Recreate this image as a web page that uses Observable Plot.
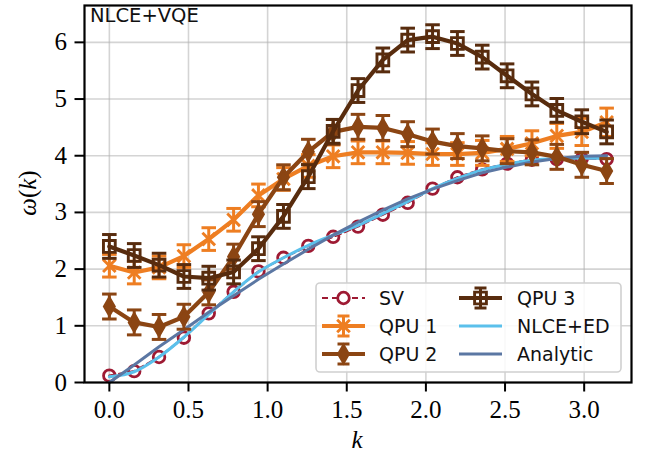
<!DOCTYPE html>
<html><head><meta charset="utf-8">
<script src="https://cdn.jsdelivr.net/npm/d3@7"></script>
<script src="https://cdn.jsdelivr.net/npm/@observablehq/plot@0.6"></script>
<style>
body{margin:0;background:#fff;}
#chart{position:relative;width:645px;height:462px;}
</style></head><body><div id="chart"></div>
<script>
// ---- data ----
const k = [0, 0.157, 0.314, 0.471, 0.628, 0.785, 0.942, 1.100, 1.257, 1.414, 1.571,
           1.728, 1.885, 2.042, 2.199, 2.356, 2.513, 2.670, 2.827, 2.985, 3.142];
const sv = [0.12, 0.2, 0.45, 0.79, 1.22, 1.6, 1.96, 2.2, 2.41, 2.57, 2.75,
            2.96, 3.17, 3.42, 3.62, 3.76, 3.86, 3.93, 3.94, 3.95, 3.94];
const qpu1 = [2.06, 1.94, 2.03, 2.23, 2.53, 2.87, 3.3, 3.59, 3.82, 3.99, 4.06,
              4.06, 4.05, 4.03, 4.03, 4.05, 4.12, 4.22, 4.35, 4.42, 4.59];
const qpu1Err = [0.2, 0.2, 0.2, 0.2, 0.2, 0.2, 0.2, 0.2, 0.2, 0.2, 0.2,
                 0.2, 0.2, 0.2, 0.2, 0.22, 0.22, 0.22, 0.22, 0.24, 0.25];
const qpu2 = [1.34, 1.06, 0.98, 1.16, 1.59, 2.22, 2.97, 3.62, 4.07, 4.42, 4.51,
              4.49, 4.38, 4.25, 4.17, 4.13, 4.08, 4.06, 3.98, 3.84, 3.73];
const qpu2Err = [0.22, 0.22, 0.22, 0.22, 0.22, 0.22, 0.22, 0.22, 0.22, 0.22, 0.22,
                 0.22, 0.22, 0.22, 0.22, 0.22, 0.22, 0.22, 0.22, 0.22, 0.22];
const qpu3 = [2.4, 2.24, 2.07, 1.87, 1.84, 1.95, 2.36, 2.93, 3.63, 4.43, 5.15,
              5.69, 6.04, 6.1, 5.98, 5.74, 5.41, 5.09, 4.8, 4.6, 4.42];
const qpu3Err = [0.21, 0.21, 0.21, 0.21, 0.21, 0.21, 0.21, 0.21, 0.21, 0.21, 0.21,
                 0.21, 0.21, 0.21, 0.21, 0.21, 0.21, 0.21, 0.21, 0.21, 0.21];
const nlceEd = [0.1, 0.19, 0.45, 0.8, 1.2, 1.6, 1.95, 2.2, 2.42, 2.6, 2.77,
                2.98, 3.19, 3.42, 3.6, 3.75, 3.85, 3.92, 3.95, 3.96, 3.95];
const analytic = [0, 0.31, 0.63, 0.93, 1.24, 1.53, 1.82, 2.09, 2.35, 2.6, 2.83,
                  3.04, 3.24, 3.41, 3.56, 3.7, 3.8, 3.89, 3.95, 3.99, 4.0];
const xTicks = [0, 0.5, 1.0, 1.5, 2.0, 2.5, 3.0];
const yTicks = [0, 1, 2, 3, 4, 5, 6];
const labels = ["SV", "QPU 1", "QPU 2", "QPU 3", "NLCE+ED", "Analytic"];
const colors = ["#9e1a33", "#ee7e22", "#8b4513", "#582c0e", "#5bc0eb", "#5b77a3"];

// ---- build ----
const toRows = (vals, err) => k.map((x, i) => ({k: x, y: vals[i],
  lo: err ? vals[i] - err[i] : null, hi: err ? vals[i] + err[i] : null}));
const svRows = toRows(sv), nlceRows = toRows(nlceEd), anRows = toRows(analytic);
const q1 = toRows(qpu1, qpu1Err), q2 = toRows(qpu2, qpu2Err), q3 = toRows(qpu3, qpu3Err);
const capSym = {draw(ctx, size) { const w = Math.sqrt(size) / 2; ctx.moveTo(-w, 0); ctx.lineTo(w, 0); }};

function qpuMarks(rows, color, symbol, r, fill) {
  return [
    Plot.line(rows, {x: "k", y: "y", stroke: color, strokeWidth: 4.2}),
    Plot.ruleX(rows, {x: "k", y1: "lo", y2: "hi", stroke: color, strokeWidth: 3}),
    Plot.dot(rows, {x: "k", y: "lo", symbol: capSym, r: 8.2, stroke: color, strokeWidth: 3}),
    Plot.dot(rows, {x: "k", y: "hi", symbol: capSym, r: 8.2, stroke: color, strokeWidth: 3}),
    Plot.dot(rows, {x: "k", y: "y", symbol, r, stroke: color, strokeWidth: 2.9, fill})
  ];
}

const plot = Plot.plot({
  width: 645, height: 462,
  marginLeft: 84, marginRight: 14, marginTop: 5, marginBottom: 80,
  style: {fontFamily: "'Liberation Serif', serif", fontSize: "25px", background: "white"},
  x: {domain: [-0.157, 3.299]},
  y: {domain: [0, 6.65]},
  marks: [
    Plot.gridX(xTicks, {stroke: "#b0b0b0", strokeOpacity: 0.55, strokeWidth: 1.6}),
    Plot.gridY(yTicks, {stroke: "#b0b0b0", strokeOpacity: 0.55, strokeWidth: 1.6}),
    Plot.line(svRows, {x: "k", y: "y", stroke: colors[0], strokeWidth: 2.2, strokeDasharray: "6,4"}),
    Plot.dot(svRows, {x: "k", y: "y", r: 5.8, stroke: colors[0], strokeWidth: 2.8, fill: "none"}),
    Plot.line(nlceRows, {x: "k", y: "y", stroke: colors[4], strokeWidth: 3, curve: "catmull-rom"}),
    Plot.line(anRows, {x: "k", y: "y", stroke: colors[5], strokeWidth: 3}),
    ...qpuMarks(q1, colors[1], "times", 5.8, "none"),
    ...qpuMarks(q2, colors[2], "diamond", 5.2, colors[2]),
    ...qpuMarks(q3, colors[3], "square2", 7.5, "none"),
    Plot.axisX(xTicks, {tickFormat: d => d.toFixed(1), tickSize: 9.5, tickPadding: 8, strokeWidth: 2, label: null}),
    Plot.axisY(yTicks, {tickFormat: d => String(d), tickSize: 9.5, tickPadding: 8, strokeWidth: 2, label: null}),
    Plot.frame({stroke: "black", strokeWidth: 2.2})
  ]
});
document.getElementById("chart").appendChild(plot);

// ---- annotations: labels, legend ----
const svg = d3.select(plot);
svg.append("text").attr("x", 357).attr("y", 448).attr("text-anchor", "middle")
  .attr("font-family", "'Liberation Serif', serif").attr("font-size", 25).attr("font-style", "italic").text("k");
const yl = svg.append("text").attr("transform", "translate(36,193) rotate(-90)").attr("text-anchor", "middle")
  .attr("font-family", "'Liberation Serif', serif").attr("font-size", 25);
yl.append("tspan").attr("font-style", "italic").text("ω");
yl.append("tspan").text("(");
yl.append("tspan").attr("font-style", "italic").text("k");
yl.append("tspan").text(")");
svg.append("text").attr("x", 90).attr("y", 22).attr("text-anchor", "start")
  .attr("font-family", "'DejaVu Sans', sans-serif").attr("font-size", 19.5).attr("fill", "#111").text("NLCE+VQE");

const lg = svg.append("g");
lg.append("rect").attr("x", 316).attr("y", 283).attr("width", 305).attr("height", 89).attr("rx", 4)
  .attr("fill", "white").attr("fill-opacity", 0.85).attr("stroke", "#d0d0d0").attr("stroke-width", 1.6);
const rowsY = [298, 326, 354];
const cols = [{x0: 322, x1: 365, tx: 379}, {x0: 459, x1: 502, tx: 517}];
const legendDefs = [
  {col: 0, row: 0, type: "sv"}, {col: 0, row: 1, type: "qpu", sym: d3.symbolTimes, size: Math.PI * 5.8 * 5.8, fill: "none"},
  {col: 0, row: 2, type: "qpu", sym: d3.symbolDiamond, size: Math.PI * 5.2 * 5.2, fill: colors[2]},
  {col: 1, row: 0, type: "qpu", sym: d3.symbolSquare2, size: Math.PI * 7.5 * 7.5, fill: "none"},
  {col: 1, row: 1, type: "line"}, {col: 1, row: 2, type: "line"}
];
legendDefs.forEach((d, i) => {
  const c = cols[d.col], y = rowsY[d.row], col = colors[i], cx = (c.x0 + c.x1) / 2;
  if (d.type === "sv") {
    lg.append("line").attr("x1", c.x0).attr("x2", c.x1).attr("y1", y).attr("y2", y)
      .attr("stroke", col).attr("stroke-width", 2.2).attr("stroke-dasharray", "6,4");
    lg.append("circle").attr("cx", cx).attr("cy", y).attr("r", 5.8).attr("fill", "white")
      .attr("stroke", col).attr("stroke-width", 2.8);
  } else if (d.type === "line") {
    lg.append("line").attr("x1", c.x0).attr("x2", c.x1).attr("y1", y).attr("y2", y)
      .attr("stroke", col).attr("stroke-width", 3);
  } else {
    lg.append("line").attr("x1", c.x0).attr("x2", c.x1).attr("y1", y).attr("y2", y)
      .attr("stroke", col).attr("stroke-width", 4.2);
    lg.append("line").attr("x1", cx).attr("x2", cx).attr("y1", y - 10).attr("y2", y + 10)
      .attr("stroke", col).attr("stroke-width", 3);
    [y - 10, y + 10].forEach(yy => lg.append("line").attr("x1", cx - 6).attr("x2", cx + 6)
      .attr("y1", yy).attr("y2", yy).attr("stroke", col).attr("stroke-width", 3));
    lg.append("path").attr("d", d3.symbol(d.sym, d.size)()).attr("transform", `translate(${cx},${y})`)
      .attr("fill", d.fill).attr("stroke", col).attr("stroke-width", 2.9);
  }
  lg.append("text").attr("x", c.tx).attr("y", y).attr("dy", "0.36em").attr("text-anchor", "start")
    .attr("font-family", "'DejaVu Sans', sans-serif").attr("font-size", 19).attr("fill", "#111")
    .text(labels[i]);
});
</script></body></html>
